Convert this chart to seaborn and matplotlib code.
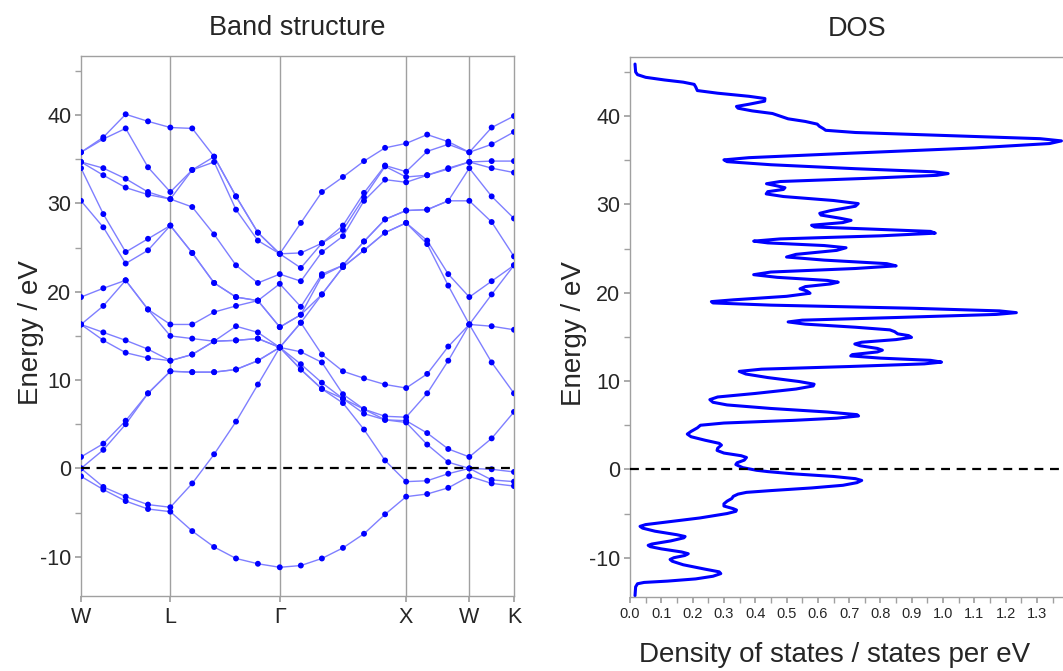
import numpy as np
import pandas as pd
import matplotlib
matplotlib.use("Agg")
import matplotlib.pyplot as plt
import seaborn as sns
from matplotlib.ticker import MultipleLocator, FixedLocator

# ---------------- data ----------------
hs_labels = ["W", "L", "Γ", "X", "W", "K"]
hs_coords = [(1.0, 0.5, 0.0), (0.5, 0.5, 0.5), (0.0, 0.0, 0.0),
             (1.0, 0.0, 0.0), (1.0, 0.5, 0.0), (0.75, 0.75, 0.0)]
segment_steps = [4, 5, 6, 3, 2]

band_01 = [-0.9, -2.4, -3.7, -4.6, -4.9, -7.1, -8.9, -10.2, -10.8, -11.2, -11.0, -10.2, -9.0, -7.4, -5.2, -3.2, -2.9, -2.2, -0.9, -1.7, -2.0]
band_02 = [0.0, -2.1, -3.2, -4.1, -4.4, -1.7, 1.6, 5.3, 9.5, 13.7, 11.2, 9.0, 7.4, 4.4, 0.9, -1.5, -1.4, -0.6, 0.0, -1.3, -1.5]
band_03 = [0.0, 2.1, 5.0, 8.5, 11.0, 10.9, 10.9, 11.2, 12.2, 13.7, 11.2, 9.0, 7.9, 6.2, 5.5, 5.2, 2.7, 0.7, 0.0, -0.1, -0.4]
band_04 = [1.3, 2.8, 5.4, 8.5, 11.0, 10.9, 10.9, 11.2, 12.2, 13.7, 11.8, 9.7, 7.9, 6.7, 5.5, 5.4, 4.0, 2.2, 1.3, 3.4, 6.4]
band_05 = [16.3, 14.5, 13.1, 12.5, 12.2, 12.9, 14.4, 14.5, 14.7, 13.7, 13.2, 12.0, 8.4, 6.7, 5.9, 5.8, 8.5, 12.2, 16.3, 12.0, 8.5]
band_06 = [16.3, 15.4, 14.5, 13.5, 12.2, 12.9, 14.4, 14.5, 14.7, 13.7, 16.5, 12.9, 11.0, 10.2, 9.5, 9.1, 10.7, 13.8, 16.3, 16.1, 15.7]
band_07 = [16.3, 18.4, 21.3, 18.0, 15.0, 14.7, 14.4, 16.1, 15.4, 13.7, 16.5, 19.7, 22.8, 24.7, 26.7, 27.8, 25.4, 20.7, 16.3, 19.7, 23.0]
band_08 = [19.4, 20.4, 21.3, 18.0, 16.3, 16.3, 17.7, 18.4, 19.0, 16.0, 17.4, 19.7, 22.8, 24.7, 26.7, 27.8, 25.8, 22.0, 19.4, 21.2, 23.0]
band_09 = [30.3, 27.3, 23.2, 24.7, 27.5, 24.4, 21.0, 19.4, 19.0, 16.0, 17.4, 21.8, 23.0, 25.7, 28.2, 29.2, 29.3, 30.3, 30.3, 27.9, 24.0]
band_10 = [34.0, 28.8, 24.5, 26.0, 27.5, 24.4, 21.0, 19.4, 19.0, 20.9, 18.3, 22.0, 23.0, 25.7, 28.2, 29.2, 29.3, 30.3, 34.0, 30.8, 28.3]
band_11 = [34.7, 33.2, 31.8, 31.0, 30.5, 29.6, 26.5, 23.0, 21.0, 22.0, 21.2, 24.5, 26.3, 30.3, 32.7, 32.4, 33.2, 33.9, 34.7, 34.0, 33.5]
band_12 = [34.7, 34.0, 32.8, 31.3, 30.5, 33.8, 34.7, 29.3, 25.8, 24.3, 22.7, 25.5, 27.0, 30.7, 34.2, 33.0, 33.2, 34.0, 34.7, 34.8, 34.8]
band_13 = [35.8, 37.3, 38.5, 34.1, 31.3, 33.8, 35.3, 30.8, 26.7, 24.3, 24.4, 25.5, 27.5, 31.2, 34.3, 33.6, 35.9, 36.7, 35.8, 36.7, 38.1]
band_14 = [35.8, 37.5, 40.1, 39.3, 38.6, 38.5, 35.3, 30.8, 26.7, 24.3, 27.8, 31.3, 33.0, 34.8, 36.3, 36.8, 37.8, 37.0, 35.8, 38.6, 39.9]
bands = [band_01, band_02, band_03, band_04, band_05, band_06, band_07,
         band_08, band_09, band_10, band_11, band_12, band_13, band_14]

dos_energy = [-14.3, -13.3, -12.95, -12.8, -12.65, -12.4, -12.1, -11.8, -11.6, -11.3, -10.8, -10.4,
              -10.2, -10.0, -9.75, -9.55, -9.35, -9.0, -8.75, -8.6, -8.45, -8.1, -7.75, -7.6,
              -7.4, -7.0, -6.65, -6.45, -6.25, -5.9, -5.5, -5.0, -4.75, -4.6, -4.45, -4.15,
              -3.9, -3.6, -3.3, -3.05, -2.8, -2.6, -2.4, -2.1, -1.8, -1.5, -1.25, -1.05, -0.8,
              -0.5, -0.25, -0.1, 0.2, 0.55, 0.75, 1.05, 1.35, 1.55, 1.85, 2.15, 2.4, 2.75,
              2.95, 3.3, 3.7, 4.0, 4.3, 4.7, 5.0, 5.25, 5.55, 5.8, 6.05, 6.2, 6.5, 6.9, 7.3,
              7.6, 7.9, 8.2, 8.6, 9.1, 9.45, 9.65, 9.95, 10.4, 10.8, 11.1, 11.35, 11.65, 11.95,
              12.15, 12.35, 12.6, 12.85, 13.0, 13.3, 13.5, 13.7, 14.0, 14.2, 14.4, 14.7, 14.95,
              15.15, 15.35, 15.6, 15.8, 16.1, 16.45, 16.7, 16.9, 17.2, 17.55, 17.75, 17.95,
              18.25, 18.6, 18.85, 19.0, 19.2, 19.6, 19.95, 20.2, 20.45, 20.7, 21.0, 21.2, 21.4,
              21.75, 22.05, 22.35, 22.75, 23.05, 23.3, 23.7, 24.05, 24.35, 24.8, 25.1, 25.35,
              25.65, 25.85, 26.1, 26.45, 26.75, 26.95, 27.2, 27.45, 27.65, 27.95, 28.2, 28.45,
              28.8, 29.0, 29.3, 29.8, 30.1, 30.45, 30.9, 31.2, 31.45, 31.7, 31.9, 32.1, 32.35,
              32.6, 32.95, 33.3, 33.5, 33.7, 34.05, 34.5, 34.85, 35.05, 35.3, 35.8, 36.4, 36.9,
              37.2, 37.45, 37.8, 38.15, 38.4, 38.6, 38.85, 39.1, 39.4, 39.7, 40.0, 40.3, 40.6,
              40.9, 41.1, 41.35, 41.7, 42.0, 42.25, 42.6, 42.9, 43.3, 43.6, 43.85, 44.1, 44.4,
              44.7, 45.0, 45.9]
dos_value = [0.016, 0.018, 0.024, 0.045, 0.12, 0.21, 0.265, 0.29, 0.285, 0.24, 0.17, 0.135,
             0.128, 0.14, 0.175, 0.186, 0.165, 0.10, 0.065, 0.058, 0.07, 0.13, 0.172, 0.176,
             0.15, 0.08, 0.04, 0.032, 0.05, 0.13, 0.223, 0.31, 0.338, 0.34, 0.33, 0.30,
             0.30, 0.31, 0.325, 0.33, 0.345, 0.372, 0.45, 0.58, 0.68, 0.725, 0.74, 0.72, 0.65,
             0.52, 0.44, 0.404, 0.36, 0.338, 0.342, 0.365, 0.372, 0.355, 0.30, 0.278, 0.28, 0.292,
             0.285, 0.24, 0.195, 0.183, 0.195, 0.215, 0.225, 0.30, 0.52, 0.66, 0.73, 0.725, 0.63, 0.45, 0.31,
             0.265, 0.255, 0.28, 0.40, 0.53, 0.585, 0.588, 0.54, 0.44, 0.37, 0.349, 0.42, 0.70, 0.94,
             0.995, 0.96, 0.80, 0.705, 0.71, 0.79, 0.806, 0.79, 0.735, 0.718, 0.74, 0.85, 0.899,
             0.89, 0.855, 0.845, 0.83, 0.72, 0.56, 0.505, 0.55, 0.85, 1.17, 1.234, 1.18,
             0.90, 0.45, 0.265, 0.26, 0.33, 0.50, 0.575, 0.565, 0.543, 0.56, 0.64, 0.665, 0.63,
             0.47, 0.395, 0.45, 0.72, 0.85, 0.82, 0.62, 0.50, 0.53, 0.66, 0.69, 0.62,
             0.44, 0.395, 0.48, 0.80, 0.975, 0.96, 0.78, 0.59, 0.58, 0.68, 0.706, 0.67,
             0.61, 0.606, 0.64, 0.72, 0.729, 0.65, 0.49, 0.435, 0.44, 0.49, 0.495, 0.47, 0.436,
             0.48, 0.75, 0.98, 1.016, 0.97, 0.72, 0.45, 0.31, 0.30, 0.38, 0.70, 1.10, 1.34,
             1.378, 1.31, 1.02, 0.72, 0.625, 0.617, 0.605, 0.598, 0.56, 0.505, 0.48, 0.455, 0.39,
             0.345, 0.34, 0.38, 0.43, 0.431, 0.38, 0.28, 0.215, 0.21, 0.205, 0.17, 0.11, 0.05,
             0.024, 0.018, 0.016]
dos_ticks = [0.0, 0.1, 0.2, 0.3, 0.4, 0.5, 0.6, 0.7, 0.8, 0.9, 1.0, 1.1, 1.2, 1.3]
energy_ticks = [-10, 0, 10, 20, 30, 40]

# ---------------- k-path distances ----------------
hs = np.array(hs_coords)
k_dist = [0.0]
hs_pos = [0.0]
for i, n in enumerate(segment_steps):
    seg = np.linalg.norm(hs[i + 1] - hs[i])
    start = hs_pos[-1]
    for j in range(1, n + 1):
        k_dist.append(start + seg * j / n)
    hs_pos.append(start + seg)

rows = []
for b, energies in enumerate(bands):
    for k, e in zip(k_dist, energies):
        rows.append({"k": k, "E": e, "band": b})
df = pd.DataFrame(rows)

# ---------------- figure ----------------
sns.set_theme(style="white")
plt.rcParams["font.family"] = ["Liberation Sans", "DejaVu Sans"]
plt.rcParams["axes.unicode_minus"] = False

W, H = 1063, 671
fig = plt.figure(figsize=(W / 100, H / 100), dpi=100)
ax1 = fig.add_axes([81 / W, 1 - 596 / H, (514 - 81) / W, (596 - 56) / H])
ax2 = fig.add_axes([630 / W, 1 - 597 / H, (1084 - 630) / W, (597 - 57) / H])

grey = "#a0a0a0"
ylim = (-14.45, 46.7)

# band structure
for x in hs_pos[1:-1]:
    ax1.axvline(x, color=grey, lw=1.0, zorder=1)
sns.lineplot(data=df, x="k", y="E", units="band", estimator=None, sort=False,
             color="#7f7fff", lw=1.0, ax=ax1, legend=False, zorder=2)
sns.scatterplot(data=df, x="k", y="E", color="#0000ff", s=18, edgecolor="none",
                ax=ax1, legend=False, zorder=3)
ax1.axhline(0, color="black", lw=1.6, ls=(0, (4, 3)), zorder=4)
ax1.set_xlim(hs_pos[0], hs_pos[-1])
ax1.set_ylim(*ylim)
ax1.set_xticks(hs_pos)
ax1.set_xticklabels(hs_labels)
ax1.set_xlabel("")
ax1.set_ylabel("Energy / eV", fontsize=20)
ax1.yaxis.set_label_coords(-0.085, 0.487)
ax1.set_title("Band structure", fontsize=19.5, pad=15)

# DOS
sns.lineplot(x=dos_value, y=dos_energy, orient="y", sort=False, estimator=None,
             color="#0000ff", lw=2.2, ax=ax2)
ax2.axhline(0, color="black", lw=1.6, ls=(0, (4, 3)), zorder=4)
ax2.set_xlim(0, 1.45)
ax2.set_ylim(*ylim)
ax2.xaxis.set_major_locator(FixedLocator(dos_ticks))
ax2.set_xticklabels([f"{t:.1f}" for t in dos_ticks])
ax2.xaxis.set_minor_locator(MultipleLocator(0.05))
ax2.set_xlabel("Density of states / states per eV", fontsize=20, va="top")
ax2.xaxis.set_label_coords(0.4515, -0.083)
ax2.set_ylabel("Energy / eV", fontsize=20)
ax2.yaxis.set_label_coords(-0.094, 0.487)
ax2.set_title("DOS", fontsize=19.5, pad=15)

for ax in (ax1, ax2):
    ax.yaxis.set_major_locator(FixedLocator(energy_ticks))
    ax.yaxis.set_minor_locator(MultipleLocator(5))
    for s in ax.spines.values():
        s.set_color(grey)
        s.set_linewidth(1.0)
    ax.tick_params(axis="y", which="both", left=True, direction="out", length=4,
                   color=grey, labelsize=15.5, pad=3)
    ax.tick_params(axis="x", which="both", bottom=True, direction="out", length=4,
                   color=grey, pad=4)
ax1.tick_params(axis="x", labelsize=15.5)
ax2.tick_params(axis="x", labelsize=10.5, pad=3)

fig.savefig("out.png", dpi=100)
